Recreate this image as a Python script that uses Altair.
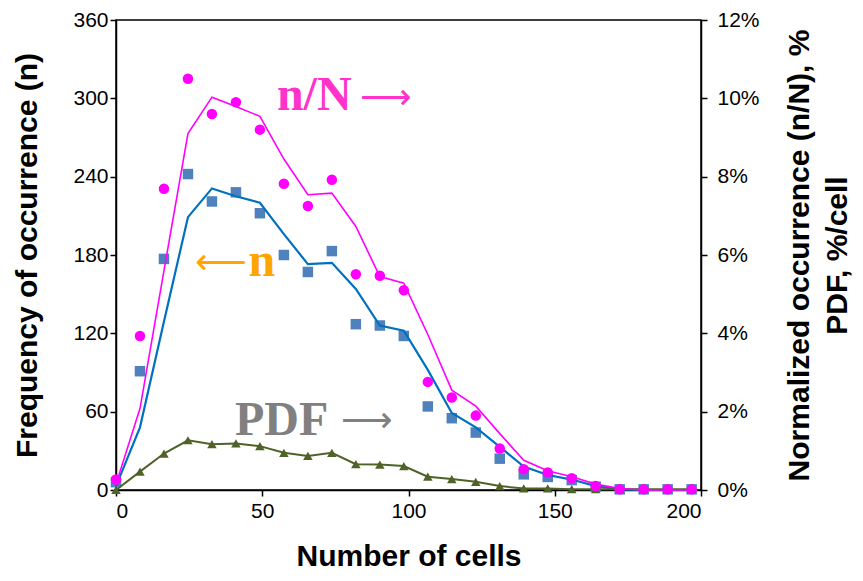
import altair as alt
import pandas as pd

# Number of cells (bin centres)
cells = [0, 8.2, 16.4, 24.6, 32.8, 41, 49.2, 57.4, 65.6, 73.8, 82, 90.2, 98.4,
         106.6, 114.8, 123, 131.2, 139.4, 147.6, 155.8, 164, 172.2, 180.4, 188.6, 196.8]
# Frequency of occurrence n (squares)
n_obs = [6, 91, 177, 242, 221, 228, 212, 180, 167, 183, 127, 126, 118,
         64, 55, 44, 24, 12, 10, 7.6, 2.5, 0.5, 0.5, 0.5, 0.5]
# Fitted curve for n (blue line)
n_fit = [3, 48, 129, 209, 231, 225, 220, 196, 173, 174, 154, 126, 122,
         92, 59, 48, 33, 18, 11.5, 8, 3, 0.5, 0, 0, 0]
# Normalized occurrence n/N, % (magenta circles)
nN_obs = [0.27, 3.93, 7.69, 10.5, 9.6, 9.9, 9.2, 7.82, 7.25, 7.92, 5.51, 5.47, 5.1,
          2.76, 2.36, 1.9, 1.06, 0.53, 0.45, 0.3, 0.1, 0.02, 0.02, 0.02, 0.02]
# Fitted curve for n/N, % (magenta line)
nN_fit = [0.15, 2.08, 5.6, 9.1, 10.03, 9.79, 9.54, 8.45, 7.54, 7.58, 6.73, 5.45, 5.28,
          3.97, 2.55, 2.14, 1.44, 0.76, 0.49, 0.34, 0.15, 0.04, 0, 0, 0]
# PDF, %/cell (green triangles)
pdf = [0, 0.47, 0.93, 1.27, 1.17, 1.19, 1.12, 0.95, 0.87, 0.95, 0.66, 0.65, 0.61,
       0.34, 0.28, 0.21, 0.1, 0.04, 0.04, 0.02, 0.02, 0.02, 0.02, 0.02, 0.02]

x_ticks = [0, 50, 100, 150, 200]
left_ticks = [0, 60, 120, 180, 240, 300, 360]
right_ticks = [0, 2, 4, 6, 8, 10, 12]

df = pd.DataFrame({"cells": cells, "n_obs": n_obs, "n_fit": n_fit,
                   "nN_obs": nN_obs, "nN_fit": nN_fit, "pdf": pdf})

words = pd.DataFrame({
    "lx": [55.0, 45.3, 40.7],
    "ly": [290.8, 164.0, 42.0],
    "txt": ["n/N", "n", "PDF"],
    "col": ["#FF33CC", "#FFA500", "#808080"],
})
arrows = pd.DataFrame({
    "lx": [83.4, 27.0, 76.9],
    "ly": [300.0, 174.0, 52.7],
    "txt": ["\u27f6", "\u27f5", "\u27f6"],
    "col": ["#FF33CC", "#FFA500", "#808080"],
})

xscale = alt.Scale(domain=[0, 200], nice=False, zero=False)
xaxis = alt.Axis(title="Number of cells", values=x_ticks, titlePadding=20, labelPadding=4)
lscale = alt.Scale(domain=[0, 360], nice=False)
laxis = alt.Axis(title="Frequency of occurrence (n)", values=left_ticks, orient="left",
                 labelPadding=2, titlePadding=30)
rscale = alt.Scale(domain=[0, 12], nice=False)
raxis = alt.Axis(title=["Normalized occurrence (n/N), %", "PDF, %/cell"], values=right_ticks,
                 orient="right", labelExpr="datum.value + '%'", labelPadding=10,
                 titlePadding=17, titleAngle=270, titleLineHeight=38)

X = alt.X("cells:Q", scale=xscale, axis=xaxis)
base = alt.Chart(df)

squares = base.mark_point(shape="square", filled=True, size=110, color="#4F81BD", opacity=1).encode(
    x=X, y=alt.Y("n_obs:Q", scale=lscale, axis=laxis))
blue_line = base.mark_line(color="#0070C0", strokeWidth=2.2).encode(
    x=X, y=alt.Y("n_fit:Q", scale=lscale, axis=laxis))
ann_words = alt.Chart(words).mark_text(font="Liberation Serif", fontWeight="bold", fontSize=48,
                                       align="left", baseline="alphabetic").encode(
    x=alt.X("lx:Q", scale=xscale, axis=xaxis),
    y=alt.Y("ly:Q", scale=lscale, axis=laxis),
    text="txt:N", color=alt.Color("col:N", scale=None))
ann_arrows = alt.Chart(arrows).mark_text(font="DejaVu Sans", fontWeight="normal", fontSize=36,
                                         align="left", baseline="middle").encode(
    x=alt.X("lx:Q", scale=xscale, axis=xaxis),
    y=alt.Y("ly:Q", scale=lscale, axis=laxis),
    text="txt:N", color=alt.Color("col:N", scale=None))

left = alt.layer(squares, blue_line, ann_words, ann_arrows)

pdf_line = base.mark_line(color="#4F6228", strokeWidth=2).encode(
    x=X, y=alt.Y("pdf:Q", scale=rscale, axis=raxis))
pdf_pts = base.mark_point(shape="triangle-up", filled=True, size=90, color="#4F6228", opacity=1).encode(
    x=X, y=alt.Y("pdf:Q", scale=rscale, axis=raxis))
mag_line = base.mark_line(color="#FF00FF", strokeWidth=1.6).encode(
    x=X, y=alt.Y("nN_fit:Q", scale=rscale, axis=raxis))
mag_pts = base.mark_point(shape="circle", filled=True, size=110, color="#FF00FF", opacity=1).encode(
    x=X, y=alt.Y("nN_obs:Q", scale=rscale, axis=raxis))

right = alt.layer(pdf_line, pdf_pts, mag_line, mag_pts)

chart = alt.layer(left, right).resolve_scale(y="independent").properties(
    width=585, height=470,
    autosize=alt.AutoSizeParams(type="none"),
    padding={"left": 108, "top": 12, "right": 153, "bottom": 82},
).configure_view(stroke="black", strokeWidth=1.5).configure_axis(
    grid=False, domainColor="black", domainWidth=1.5, tickColor="black", tickWidth=1.5,
    tickSize=6, labelFont="Liberation Sans", labelFontSize=21, labelColor="black",
    titleFont="Liberation Sans", titleFontWeight="bold", titleFontSize=30, titleColor="black",
)

chart.save("out.html", embed_options={"renderer": "svg", "actions": False})
